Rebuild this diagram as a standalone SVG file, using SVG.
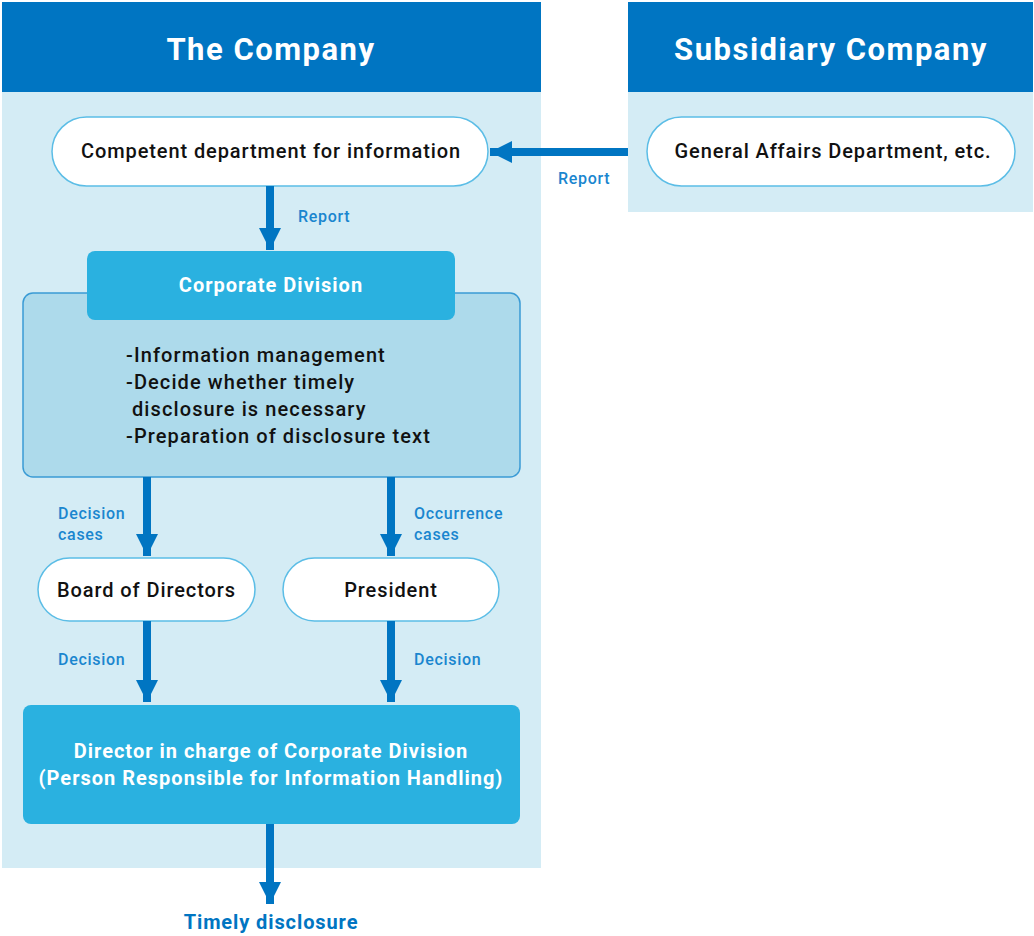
<svg xmlns="http://www.w3.org/2000/svg" width="1034" height="936" viewBox="0 0 1034 936">
<style>
text{font-family:Roboto,"Noto Sans","Liberation Sans",sans-serif}
.hdr{fill:#0075C2}
.bg{fill:#D4ECF5}
.title{fill:#fff;font-size:31px;font-weight:bold;text-anchor:middle;letter-spacing:1.5px}
.pill{fill:#fff;stroke:#5BBDE6;stroke-width:1.5}
.ntext{fill:#111;font-size:20px;font-weight:500;text-anchor:middle;letter-spacing:0.9px}
.btext{fill:#111;font-size:20px;font-weight:500;letter-spacing:1.1px}
.lbl{fill:#1A86CF;font-size:16px;font-weight:500;letter-spacing:0.7px}
.wtext{fill:#fff;font-size:20px;font-weight:bold;text-anchor:middle;letter-spacing:1px}
.conn{stroke:#0075C2;stroke-width:8;fill:none}
</style>
<defs>
<marker id="ah" markerUnits="userSpaceOnUse" markerWidth="24" markerHeight="22" refX="22" refY="11" orient="auto">
<path d="M0,0 L22,11 L0,22 Z" fill="#0075C2"/>
</marker>
</defs>
<g id="panel-company">
<rect x="2" y="2" width="539" height="866" class="bg"/>
<rect x="2" y="2" width="539" height="90" class="hdr"/>
<text x="271" y="60" class="title">The Company</text>
</g>
<g id="panel-subsidiary">
<rect x="628" y="2" width="405" height="210" class="bg"/>
<rect x="628" y="2" width="405" height="90" class="hdr"/>
<text x="831" y="60" class="title">Subsidiary Company</text>
</g>
<g id="node-competent">
<rect x="52" y="117" width="436" height="69" rx="34.5" class="pill"/>
<text x="271" y="158" class="ntext">Competent department for information</text>
</g>
<g id="node-general">
<rect x="647" y="117" width="368" height="69" rx="34.5" class="pill"/>
<text x="833" y="158" class="ntext">General Affairs Department, etc.</text>
</g>
<g id="node-corporate">
<rect x="23" y="293" width="497" height="184" rx="10" fill="#ADDAEB" stroke="#3A9BD5" stroke-width="1.5"/>
<rect x="87" y="251" width="368" height="69" rx="8" fill="#2AB1E0"/>
<text x="271" y="292" class="wtext">Corporate Division</text>
<text x="126" y="362" class="btext">-Information management</text>
<text x="126" y="389" class="btext">-Decide whether timely</text>
<text x="132" y="416" class="btext">disclosure is necessary</text>
<text x="126" y="443" class="btext">-Preparation of disclosure text</text>
</g>
<g id="node-board">
<rect x="38" y="558" width="217" height="63" rx="31.5" class="pill"/>
<text x="146.5" y="597" class="ntext">Board of Directors</text>
</g>
<g id="node-president">
<rect x="283" y="558" width="216" height="63" rx="31.5" class="pill"/>
<text x="391" y="597" class="ntext">President</text>
</g>
<g id="node-director">
<rect x="23" y="705" width="497" height="119" rx="8" fill="#2AB1E0"/>
<text x="271" y="758" class="wtext">Director in charge of Corporate Division</text>
<text x="271" y="785" class="wtext">(Person Responsible for Information Handling)</text>
</g>
<g id="connectors">
<line x1="628" y1="152" x2="490" y2="152" class="conn" marker-end="url(#ah)"/>
<line x1="270" y1="186" x2="270" y2="250" class="conn" marker-end="url(#ah)"/>
<line x1="147" y1="477" x2="147" y2="556" class="conn" marker-end="url(#ah)"/>
<line x1="391" y1="477" x2="391" y2="556" class="conn" marker-end="url(#ah)"/>
<line x1="147" y1="621" x2="147" y2="702" class="conn" marker-end="url(#ah)"/>
<line x1="391" y1="621" x2="391" y2="702" class="conn" marker-end="url(#ah)"/>
<line x1="270" y1="824" x2="270" y2="904" class="conn" marker-end="url(#ah)"/>
<text x="558" y="184" class="lbl">Report</text>
<text x="298" y="222" class="lbl">Report</text>
<text x="58" y="519" class="lbl">Decision</text>
<text x="58" y="540" class="lbl">cases</text>
<text x="414" y="519" class="lbl">Occurrence</text>
<text x="414" y="540" class="lbl">cases</text>
<text x="58" y="665" class="lbl">Decision</text>
<text x="414" y="665" class="lbl">Decision</text>
<text x="271" y="929" fill="#0075C2" font-size="20" font-weight="bold" text-anchor="middle" letter-spacing="0.9">Timely disclosure</text>
</g>
</svg>
